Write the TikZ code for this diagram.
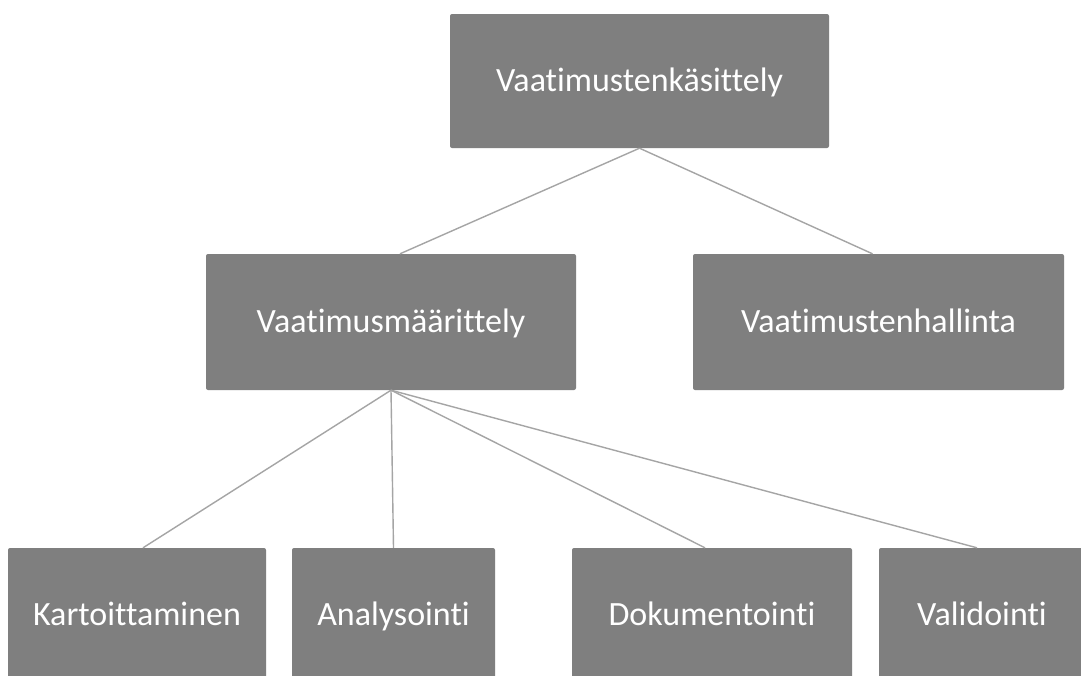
\documentclass[tikz,border=0pt]{standalone}
\usepackage{fontspec}
\setmainfont{Carlito}[Ligatures={NoCommon}]
\usepackage{xcolor}
\usetikzlibrary{positioning}
\definecolor{boxgray}{RGB}{127,127,127}
\definecolor{linkgray}{RGB}{165,165,165}
\tikzset{
  % base box
  box/.style={
    fill=boxgray,
    draw=none,
    rounded corners=2pt,
    inner sep=0pt,
    text=white,
    text height=27pt,
    text depth=7pt,
    font=\fontsize{34}{40}\selectfont
  },
  % connector
  link/.style={draw=linkgray, line width=1.4pt},
}

\begin{document}
\begin{tikzpicture}[x=1pt, y=-1pt]
    \clip (0,0) rectangle (1081,675);
    \fill[white] (0,0) rectangle (1081,675);

    % Top level
    \node[box, minimum width=379pt, minimum height=134pt] (kasittely) at (639.5, 81) {Vaatimustenkäsittely};

    % Second level
    \node[box, minimum width=370pt, minimum height=136pt] (maarittely) at (391, 322) {Vaatimusmäärittely};
    \node[box, minimum width=371pt, minimum height=136pt] (hallinta) at (878.5, 322) {Vaatimustenhallinta};

    % Third level
    \node[box, minimum width=258pt, minimum height=134pt] (kartoitus) at (137, 615) {Kartoittaminen};
    \node[box, minimum width=203pt, minimum height=134pt] (analyysi) at (393.5, 615) {Analysointi};
    \node[box, minimum width=280pt, minimum height=134pt] (dokumentit) at (712, 615) {Dokumentointi};
    \node[box, minimum width=206pt, minimum height=134pt] (validointi) at (982, 615) {Validointi};

    % Connectors
    \draw[link] (kasittely.south) -- ([xshift=9pt]maarittely.north);
    \draw[link] (kasittely.south) -- ([xshift=-6pt]hallinta.north);
    \draw[link] (maarittely.south) -- ([xshift=6pt]kartoitus.north);
    \draw[link] (maarittely.south) -- (analyysi.north);
    \draw[link] (maarittely.south) -- ([xshift=-7pt]dokumentit.north);
    \draw[link] (maarittely.south) -- ([xshift=-5pt]validointi.north);
\end{tikzpicture}
\end{document}
